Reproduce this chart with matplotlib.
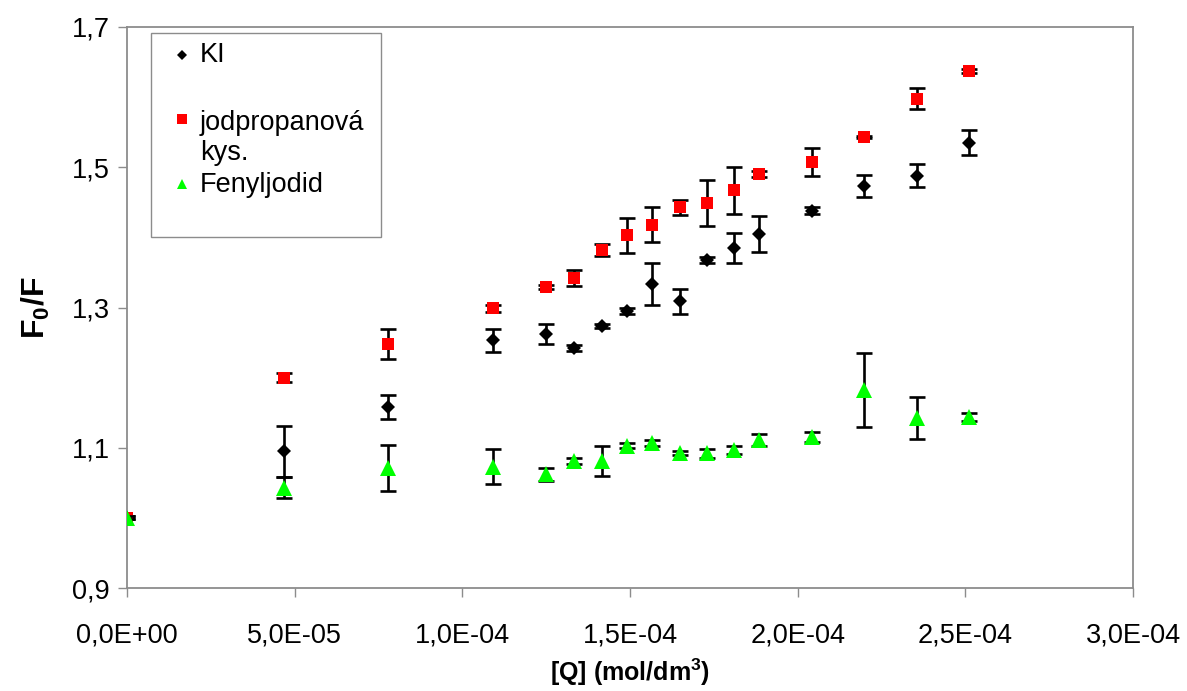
import matplotlib
matplotlib.use("Agg")
import matplotlib.pyplot as plt
from matplotlib.patches import Rectangle

plt.rcParams["font.family"] = ["Liberation Sans", "DejaVu Sans"]
plt.rcParams["mathtext.fontset"] = "custom"
plt.rcParams["mathtext.rm"] = "Liberation Sans"
plt.rcParams["mathtext.bf"] = "Liberation Sans:bold"

# Quencher concentration [Q] in mol/dm3 (shared by all series)
conc = [0.0, 4.68e-5, 7.78e-5, 1.091e-4, 1.25e-4, 1.333e-4, 1.417e-4, 1.491e-4,
        1.566e-4, 1.649e-4, 1.730e-4, 1.810e-4, 1.885e-4, 2.043e-4, 2.198e-4,
        2.356e-4, 2.511e-4]

# F0/F values and their errors
ki = [1.000, 1.095, 1.158, 1.253, 1.262, 1.242, 1.274, 1.295, 1.333, 1.309,
      1.368, 1.385, 1.405, 1.438, 1.473, 1.488, 1.535]
ki_err = [0.002, 0.036, 0.017, 0.016, 0.014, 0.004, 0.003, 0.004, 0.030, 0.018,
          0.004, 0.021, 0.026, 0.005, 0.016, 0.016, 0.018]

jodprop = [1.000, 1.200, 1.248, 1.299, 1.329, 1.342, 1.382, 1.403, 1.418, 1.443,
           1.449, 1.467, 1.490, 1.508, 1.543, 1.598, 1.637]
jodprop_err = [0.002, 0.006, 0.021, 0.005, 0.003, 0.011, 0.008, 0.025, 0.025, 0.011,
               0.033, 0.033, 0.004, 0.020, 0.002, 0.015, 0.003]

fenyl = [1.000, 1.043, 1.071, 1.073, 1.062, 1.081, 1.081, 1.103, 1.107, 1.092,
         1.092, 1.097, 1.111, 1.115, 1.182, 1.142, 1.144]
fenyl_err = [0.002, 0.015, 0.033, 0.025, 0.009, 0.004, 0.021, 0.004, 0.004, 0.003,
             0.006, 0.006, 0.008, 0.007, 0.053, 0.030, 0.006]

x_ticks = [0.0, 5e-5, 1e-4, 1.5e-4, 2e-4, 2.5e-4, 3e-4]
x_tick_labels = ["0,0E+00", "5,0E-05", "1,0E-04", "1,5E-04", "2,0E-04", "2,5E-04", "3,0E-04"]
y_ticks = [0.9, 1.1, 1.3, 1.5, 1.7]
y_tick_labels = ["0,9", "1,1", "1,3", "1,5", "1,7"]

legend_labels = ["KI", "jodpropanová\nkys.", "Fenyljodid"]

fig = plt.figure(figsize=(11.87, 6.91), dpi=100)
ax = fig.add_axes([127 / 1187, 1 - 588 / 691, 1006 / 1187, 561 / 691])

err_kw = dict(fmt="none", ecolor="black", elinewidth=1.9, capsize=5.6, capthick=1.9)
series = [
    (ki, ki_err, "D", 7.4, "black", 3),
    (jodprop, jodprop_err, "s", 9.0, "#ff0000", 4),
    (fenyl, fenyl_err, "^", 11.0, "#00ff00", 5),
]
for vals, errs, mk, ms, col, z in series:
    ax.errorbar(conc, vals, yerr=errs, zorder=z, **err_kw)
    ax.plot(conc, vals, linestyle="none", marker=mk, ms=ms, mfc=col, mec=col,
            mew=0, zorder=z + 0.5)

ax.set_xlim(0, 3e-4)
ax.set_ylim(0.9, 1.7)
ax.set_xticks(x_ticks)
ax.set_xticklabels(x_tick_labels)
ax.set_yticks(y_ticks)
ax.set_yticklabels(y_tick_labels)

for s in ax.spines.values():
    s.set_color("#8c8c8c")
    s.set_linewidth(1.3)
ax.tick_params(axis="both", direction="out", length=6.5, width=1.0, color="#8c8c8c",
               labelsize=19.5, labelcolor="black")
ax.tick_params(axis="x", pad=18)
ax.tick_params(axis="y", pad=6)

ax.set_xlabel(r"[Q] (mol/dm$^\mathbf{3}$)", fontsize=18, fontweight="bold", labelpad=6)
ax.set_ylabel(r"$\mathbf{F_0/F}$", fontsize=23, fontweight="bold", labelpad=14)

# Legend box drawn in axes coordinates
def ax_xy(px, py):
    return (px - 127) / 1006, (588 - py) / 561

x0, y0 = ax_xy(150.5, 237)
x1, y1 = ax_xy(380.5, 33)
ax.add_patch(Rectangle((x0, y0), x1 - x0, y1 - y0, transform=ax.transAxes,
                       facecolor="white", edgecolor="#8c8c8c", lw=1.0, zorder=6))
mx, _ = ax_xy(182, 0)
tx, _ = ax_xy(200, 0)
entries = [("D", 5.0, "black", 55, 62.5),
           ("s", 6.5, "#ff0000", 119, 130),
           ("^", 7.5, "#00ff00", 184, 191.5)]
for (mk, ms, col, my, base), lab in zip(entries, legend_labels):
    _, ym = ax_xy(0, my)
    _, yb = ax_xy(0, base)
    ax.plot([mx], [ym], marker=mk, ms=ms, color=col, mew=0, transform=ax.transAxes,
            clip_on=False, zorder=7)
    lines = lab.split("\n")
    for i, line in enumerate(lines):
        ax.text(tx, yb - i * 30 / 561, line, transform=ax.transAxes, fontsize=19.5,
                va="baseline", ha="left", zorder=7)

fig.savefig("out.png", dpi=100)
